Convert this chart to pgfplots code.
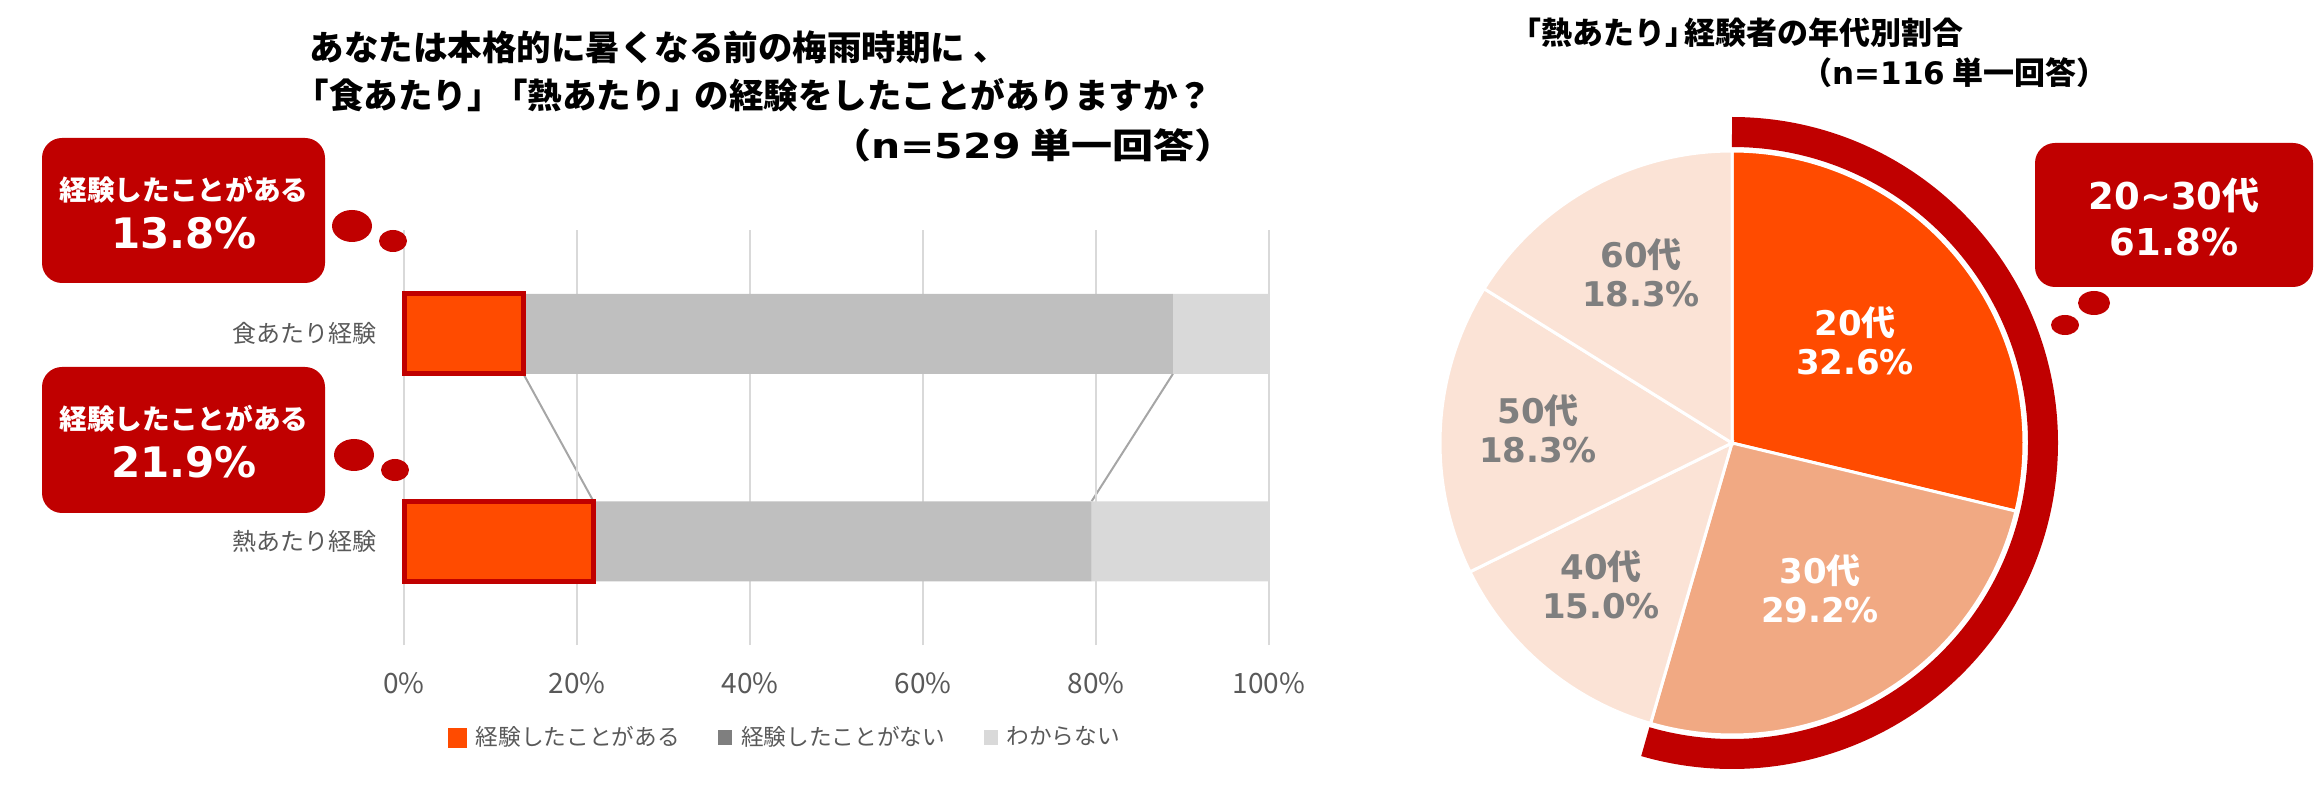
\documentclass[border=0pt]{standalone}
\usepackage{fontspec}
\setmainfont{Noto Sans CJK JP}
\newfontfamily\vf{DejaVu Sans}
\usepackage{graphicx}
\usepackage{pgfplots}
\usepackage{pgfplotstable}
\pgfplotsset{compat=1.18}

\definecolor{cRed}{HTML}{C00000}
\definecolor{cOrange}{HTML}{FF4B00}
\definecolor{cGreyA}{HTML}{BFBFBF}
\definecolor{cGreyB}{HTML}{D9D9D9}
\definecolor{cLegGrey}{HTML}{7F7F7F}
\definecolor{cText}{HTML}{595959}
\definecolor{cGrid}{HTML}{D9D9D9}
\definecolor{cLine}{HTML}{A6A6A6}
\definecolor{cSalmon}{HTML}{F1A983}
\definecolor{cPeach}{HTML}{FBE3D6}
\definecolor{cPieText}{HTML}{7F7F7F}

% bar data (y=1: food, y=0: heat)
\pgfplotstableread{
y aru nai wakaranai
0 21.9 57.6 20.5
1 13.8 75.1 11.1
}\bardata

% pie data (clockwise from top)
\pgfplotstableread{
age value
20 32.6
30 29.2
40 15.0
50 18.3
60 18.3
}\piedata
\pgfplotstablegetelem{0}{value}\of\piedata\edef\vA{\pgfplotsretval}
\pgfplotstablegetelem{1}{value}\of\piedata\edef\vB{\pgfplotsretval}
\pgfplotstablegetelem{2}{value}\of\piedata\edef\vC{\pgfplotsretval}
\pgfplotstablegetelem{3}{value}\of\piedata\edef\vD{\pgfplotsretval}
\pgfplotstablegetelem{4}{value}\of\piedata\edef\vE{\pgfplotsretval}
\pgfmathsetmacro\tot{\vA+\vB+\vC+\vD+\vE}
\pgfmathsetmacro\aA{90}
\pgfmathsetmacro\aB{\aA-360*\vA/\tot}
\pgfmathsetmacro\aC{\aB-360*\vB/\tot}
\pgfmathsetmacro\aD{\aC-360*\vC/\tot}
\pgfmathsetmacro\aE{\aD-360*\vD/\tot}
\pgfmathsetmacro\aF{\aE-360*\vE/\tot}

% image-pixel coordinates (origin top-left), 1px = 0.3pt
\newcommand\Q[2]{({(#1)*0.3pt},{(787-(#2))*0.3pt})}

\begin{document}
\begin{tikzpicture}
\useasboundingbox (0,0) rectangle (694.2pt,236.1pt);

% ---------- left title ----------
\begin{scope}[every node/.style={inner sep=0pt, font=\fontsize{10.35pt}{12pt}\selectfont\bfseries}]
\node[anchor=west] at \Q{309}{47} {あなたは本格的に暑くなる前の梅雨時期に 、};
\node[anchor=west] at \Q{294}{95} {「食あたり」\kern-0.25em「熱あたり」\kern-0.15em の経験をしたことがありますか？};
\node[anchor=east] at \Q{1236}{145} {\scalebox{1.19}[1]{（{\vf n=529} 単一回答）}};
\end{scope}

% ---------- bar chart ----------
\begin{axis}[
  at={(121.2pt,42.6pt)}, anchor=south west,
  scale only axis, width=259.5pt, height=124.5pt,
  xmin=0, xmax=100, ymin=-0.5, ymax=1.5,
  hide axis, clip=false]
\addplot[cLine, line width=0.6pt, mark=none] coordinates {(13.8,0.807) (21.9,0.193)};
\addplot[cLine, line width=0.6pt, mark=none] coordinates {(88.9,0.807) (79.5,0.193)};
\addplot[cLine, line width=0.6pt, mark=none] coordinates {(100,0.807) (100,0.193)};
\end{axis}

\begin{axis}[
  at={(121.2pt,42.6pt)}, anchor=south west,
  scale only axis, width=259.5pt, height=124.5pt,
  xbar stacked, bar width=24pt,
  xmin=0, xmax=100, ymin=-0.5, ymax=1.5,
  xtick={0,20,40,60,80,100},
  xticklabels={0\%,20\%,40\%,60\%,80\%,100\%},
  ytick={0,1}, yticklabels={熱あたり経験,食あたり経験},
  xmajorgrids, grid style={draw=cGrid, line width=0.6pt},
  axis line style={draw=none}, major tick length=0pt,
  tick label style={text=cText},
  xticklabel style={font=\fontsize{8.4pt}{10pt}\selectfont, anchor=center, yshift=-11.4pt, inner sep=0pt},
  yticklabel style={font=\fontsize{7.2pt}{9pt}\selectfont, anchor=east, xshift=-8.1pt, inner sep=0pt},
  legend style={draw=none, fill=none, at={(0.443,-0.224)}, anchor=center,
    legend columns=3, font=\fontsize{6.8pt}{8pt}\selectfont, text=cText,
    /tikz/every even column/.append style={column sep=9.6pt},
    /tikz/every odd column/.append style={column sep=0.6pt}},
  clip=false]
\addplot[fill=cOrange, draw=cRed, line width=1.5pt,
  legend image code/.code={\fill[cOrange] (0pt,-2.25pt) rectangle (4.2pt,2.25pt);}]
  table[x=aru, y=y]{\bardata};
\addlegendentry{経験したことがある}
\addplot[fill=cGreyA, draw=none,
  legend image code/.code={\fill[cLegGrey] (0pt,-2.25pt) rectangle (4.2pt,2.25pt);}]
  table[x=nai, y=y]{\bardata};
\addlegendentry{経験したことがない}
\addplot[fill=cGreyB, draw=none,
  legend image code/.code={\fill[cGreyB] (0pt,-2.25pt) rectangle (4.2pt,2.25pt);}]
  table[x=wakaranai, y=y]{\bardata};
\addlegendentry{わからない}
\end{axis}

% ---------- left callouts ----------
\fill[cRed, rounded corners=6pt] \Q{42}{138} rectangle \Q{325}{283};
\fill[cRed] \Q{352}{226} ellipse[x radius=6pt, y radius=4.8pt];
\fill[cRed] \Q{393}{241} ellipse[x radius=4.2pt, y radius=3.3pt];
\node[inner sep=0pt, text=white, font=\fontsize{8.3pt}{10pt}\selectfont\bfseries] at \Q{184}{190} {経験したことがある};
\node[inner sep=0pt, text=white, font=\fontsize{12.6pt}{14pt}\selectfont\bfseries\vf] at \Q{184}{233} {13.8\%};

\fill[cRed, rounded corners=6pt] \Q{42}{367} rectangle \Q{325}{513};
\fill[cRed] \Q{354}{455} ellipse[x radius=6pt, y radius=4.8pt];
\fill[cRed] \Q{395}{470} ellipse[x radius=4.2pt, y radius=3.3pt];
\node[inner sep=0pt, text=white, font=\fontsize{8.3pt}{10pt}\selectfont\bfseries] at \Q{184}{419} {経験したことがある};
\node[inner sep=0pt, text=white, font=\fontsize{12.6pt}{14pt}\selectfont\bfseries\vf] at \Q{184}{462} {21.9\%};

% ---------- pie title ----------
\begin{scope}[every node/.style={inner sep=0pt, font=\fontsize{9.3pt}{11pt}\selectfont\bfseries}]
\node[anchor=west] at \Q{1510}{33} {「熱あたり」\kern-0.4em 経験者の年代別割合};
\node[anchor=east] at \Q{2108}{73} {（{\vf n=116} 単一回答）};
\end{scope}

% ---------- pie ----------
\begin{axis}[
  at={(519.6pt,103.2pt)}, anchor=center,
  scale only axis, width=200pt, height=200pt,
  xmin=-1, xmax=1, ymin=-1, ymax=1,
  hide axis, clip=false]
\draw[cRed, line width=9pt] (axis cs:0,0) ++(\aA:93.3pt) arc[start angle=\aA, end angle=\aC, radius=93.3pt];
\filldraw[fill=cOrange, draw=white, line width=0.9pt] (axis cs:0,0) -- ++(\aA:87.6pt) arc[start angle=\aA, end angle=\aB, radius=87.6pt] -- cycle;
\filldraw[fill=cSalmon, draw=white, line width=0.9pt] (axis cs:0,0) -- ++(\aB:87.6pt) arc[start angle=\aB, end angle=\aC, radius=87.6pt] -- cycle;
\filldraw[fill=cPeach, draw=white, line width=0.9pt] (axis cs:0,0) -- ++(\aC:87.6pt) arc[start angle=\aC, end angle=\aD, radius=87.6pt] -- cycle;
\filldraw[fill=cPeach, draw=white, line width=0.9pt] (axis cs:0,0) -- ++(\aD:87.6pt) arc[start angle=\aD, end angle=\aE, radius=87.6pt] -- cycle;
\filldraw[fill=cPeach, draw=white, line width=0.9pt] (axis cs:0,0) -- ++(\aE:87.6pt) arc[start angle=\aE, end angle=\aF, radius=87.6pt] -- cycle;
\end{axis}

% pie labels
\begin{scope}[every node/.style={inner sep=0pt, align=center, font=\fontsize{10.2pt}{11.7pt}\selectfont\bfseries}]
\node[text=white] at \Q{1855}{341} {{\vf 20}代\\{\vf 32.6\%}};
\node[text=white] at \Q{1820}{589} {{\vf 30}代\\{\vf 29.2\%}};
\node[text=cPieText] at \Q{1601}{585} {{\vf 40}代\\{\vf 15.0\%}};
\node[text=cPieText] at \Q{1538}{429} {{\vf 50}代\\{\vf 18.3\%}};
\node[text=cPieText] at \Q{1641}{273} {{\vf 60}代\\{\vf 18.3\%}};
\end{scope}

% right callout
\fill[cRed, rounded corners=6pt] \Q{2035}{143} rectangle \Q{2313}{287};
\fill[cRed] \Q{2094}{303} ellipse[x radius=4.8pt, y radius=3.6pt];
\fill[cRed] \Q{2065}{325} ellipse[x radius=4.2pt, y radius=3pt];
\node[inner sep=0pt, text=white, font=\fontsize{11.1pt}{13pt}\selectfont\bfseries] at \Q{2174}{195} {{\vf 20\textasciitilde30}代};
\node[inner sep=0pt, text=white, font=\fontsize{11.1pt}{13pt}\selectfont\bfseries\vf] at \Q{2174}{242} {61.8\%};

\end{tikzpicture}
\end{document}
